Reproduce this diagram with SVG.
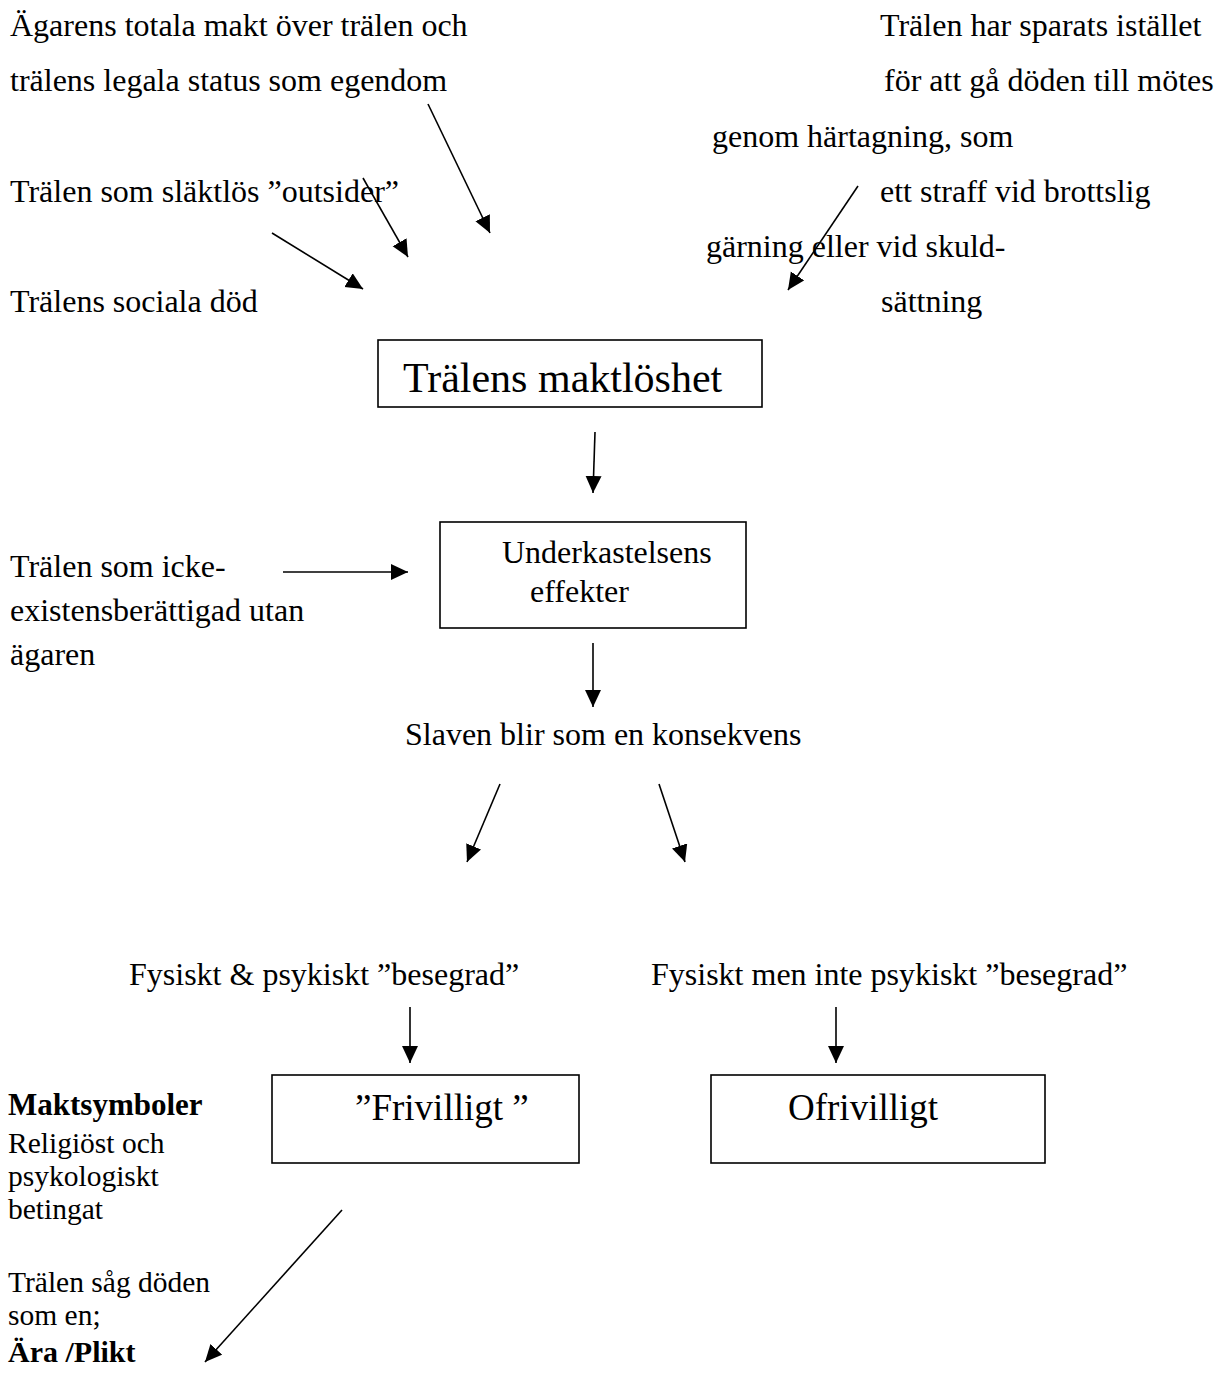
<svg xmlns="http://www.w3.org/2000/svg" width="1223" height="1390" viewBox="0 0 1223 1390">
<style>
text{font-family:"Liberation Serif","Times New Roman",serif;fill:#000;}
.t{font-size:32px;}
.s{font-size:29.5px;}
.b{font-weight:bold;}
.box{fill:#fff;stroke:#000;stroke-width:1.6;}
.c line{stroke:#000;stroke-width:1.6;marker-end:url(#ah);}
</style>
<defs>
<marker id="ah" markerWidth="19" markerHeight="17" refX="17" refY="8" orient="auto" markerUnits="userSpaceOnUse">
<path d="M0,0 L17,8 L0,16 z" fill="#000"/>
</marker>
</defs>
<rect width="1223" height="1390" fill="#fff"/>

<g id="n-agarens">
<text class="t" x="10" y="36">Ägarens totala makt över trälen och</text>
<text class="t" x="10" y="91">trälens legala status som egendom</text>
</g>
<g id="n-slaktlos"><text class="t" x="10" y="202">Trälen som släktlös ”outsider”</text></g>
<g id="n-sociala"><text class="t" x="10" y="312">Trälens sociala död</text></g>
<g id="n-sparats">
<text class="t" x="880" y="36">Trälen har sparats istället</text>
<text class="t" x="884" y="91">för att gå döden till mötes</text>
<text class="t" x="712" y="147">genom härtagning, som</text>
<text class="t" x="880" y="202">ett straff vid brottslig</text>
<text class="t" x="706" y="257">gärning eller vid skuld-</text>
<text class="t" x="881" y="312">sättning</text>
</g>
<g id="n-maktloshet">
<rect class="box" x="378" y="340" width="384" height="67"/>
<text x="403" y="392" style="font-size:42px">Trälens maktlöshet</text>
</g>
<g id="n-icke">
<text class="t" x="10" y="577">Trälen som icke-</text>
<text class="t" x="10" y="621">existensberättigad utan</text>
<text class="t" x="10" y="665">ägaren</text>
</g>
<g id="n-under">
<rect class="box" x="440" y="522" width="306" height="106"/>
<text class="t" x="502" y="563">Underkastelsens</text>
<text class="t" x="530" y="602">effekter</text>
</g>
<g id="n-slaven"><text class="t" x="405" y="745">Slaven blir som en konsekvens</text></g>
<g id="n-fys1"><text class="t" x="129" y="985">Fysiskt &amp; psykiskt ”besegrad”</text></g>
<g id="n-fys2"><text class="t" x="651" y="985">Fysiskt men inte psykiskt ”besegrad”</text></g>
<g id="n-frivilligt">
<rect class="box" x="272" y="1075" width="307" height="88"/>
<text x="355" y="1120" style="font-size:37px">”Frivilligt ”</text>
</g>
<g id="n-ofrivilligt">
<rect class="box" x="711" y="1075" width="334" height="88"/>
<text x="788" y="1120" style="font-size:37px">Ofrivilligt</text>
</g>
<g id="n-maktsymboler">
<text class="b" x="8" y="1115" style="font-size:31px">Maktsymboler</text>
<text class="s" x="8" y="1153">Religiöst och</text>
<text class="s" x="8" y="1186">psykologiskt</text>
<text class="s" x="8" y="1219">betingat</text>
</g>
<g id="n-ara">
<text class="s" x="8" y="1292">Trälen såg döden</text>
<text class="s" x="8" y="1325">som en;</text>
<text class="b" x="8" y="1362" style="font-size:30px">Ära /Plikt</text>
</g>

<g id="connectors" class="c">
<line x1="428" y1="104" x2="490" y2="233"/>
<line x1="363" y1="178" x2="408" y2="257"/>
<line x1="272" y1="233" x2="363" y2="289"/>
<line x1="858" y1="186" x2="788" y2="290"/>
<line x1="595" y1="432" x2="593" y2="493"/>
<line x1="283" y1="572" x2="408" y2="572"/>
<line x1="593" y1="643" x2="593" y2="707"/>
<line x1="500" y1="784" x2="467" y2="862"/>
<line x1="659" y1="784" x2="685" y2="862"/>
<line x1="410" y1="1007" x2="410" y2="1063"/>
<line x1="836" y1="1007" x2="836" y2="1063"/>
<line x1="342" y1="1210" x2="205" y2="1362"/>
</g>
</svg>
